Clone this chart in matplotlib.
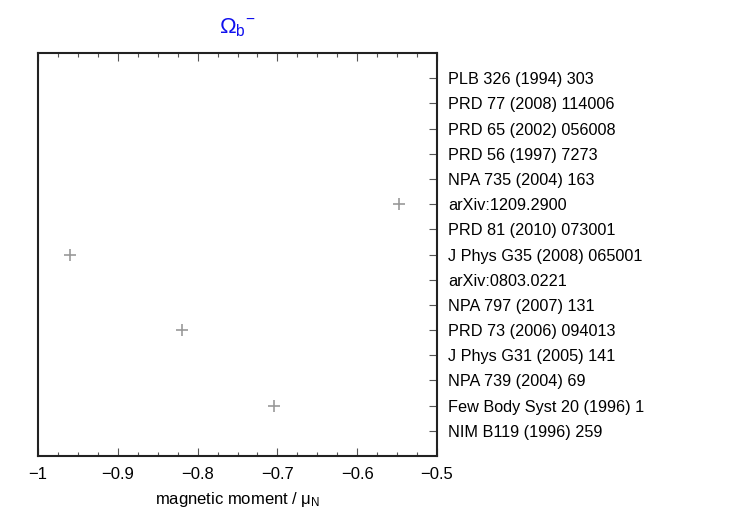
import numpy as np
import matplotlib
matplotlib.use("Agg")
import matplotlib.pyplot as plt
from matplotlib.ticker import MultipleLocator, FuncFormatter

plt.rcParams['font.family'] = ['Liberation Sans', 'DejaVu Sans']
plt.rcParams['mathtext.fontset'] = 'custom'
plt.rcParams['mathtext.rm'] = 'Liberation Sans'
plt.rcParams['mathtext.it'] = 'Liberation Sans:italic'

# references, bottom to top
references = [
    "NIM B119 (1996) 259",
    "Few Body Syst 20 (1996) 1",
    "NPA 739 (2004) 69",
    "J Phys G31 (2005) 141",
    "PRD 73 (2006) 094013",
    "NPA 797 (2007) 131",
    "arXiv:0803.0221",
    "J Phys G35 (2008) 065001",
    "PRD 81 (2010) 073001",
    "arXiv:1209.2900",
    "NPA 735 (2004) 163",
    "PRD 56 (1997) 7273",
    "PRD 65 (2002) 056008",
    "PRD 77 (2008) 114006",
    "PLB 326 (1994) 303",
]
moments = [np.nan, -0.704, np.nan, np.nan, -0.82, np.nan, np.nan, -0.96,
           np.nan, -0.548, np.nan, np.nan, np.nan, np.nan, np.nan]
xticks = [-1, -0.9, -0.8, -0.7, -0.6, -0.5]

fig = plt.figure(figsize=(7.5, 5.25), dpi=100)
ax = fig.add_axes([38/750, 1-456/525, (437-38)/750, (456-53)/525])

ypos = np.arange(len(references))
ax.plot(moments, ypos, linestyle='none', marker='+', markersize=8,
        markeredgewidth=1.2, color='#999999')

ax.set_xlim(-1, -0.5)
ax.set_ylim(-1, len(references))
ax.set_xticks(xticks)
ax.xaxis.set_minor_locator(MultipleLocator(0.025))
ax.xaxis.set_major_formatter(FuncFormatter(lambda v, p: ('%g' % v).replace('-', '\u2212')))
ax.tick_params(axis='x', which='both', direction='in', top=True, bottom=True,
               labelsize=12, pad=8)
ax.tick_params(axis='x', which='major', length=6, width=0.8, color='#555555')
ax.tick_params(axis='x', which='minor', length=3, width=0.8, color='#555555')

ax.yaxis.tick_right()
ax.set_yticks(ypos)
ax.set_yticklabels(references)
ax.tick_params(axis='y', which='both', direction='in', left=False, right=True,
               length=6, width=0.8, labelsize=11.7, pad=8, color='#555555')

for s in ax.spines.values():
    s.set_linewidth(1.5)
    s.set_color('#222222')

ax.set_xlabel('magnetic moment / μ$_{\\mathrm{N}}$', fontsize=12, labelpad=6)
ax.set_title('Ω$_{\\mathrm{b}}{}^{-}$', color='#1010ee', fontsize=16, pad=14)

fig.savefig('out.png', dpi=100)
